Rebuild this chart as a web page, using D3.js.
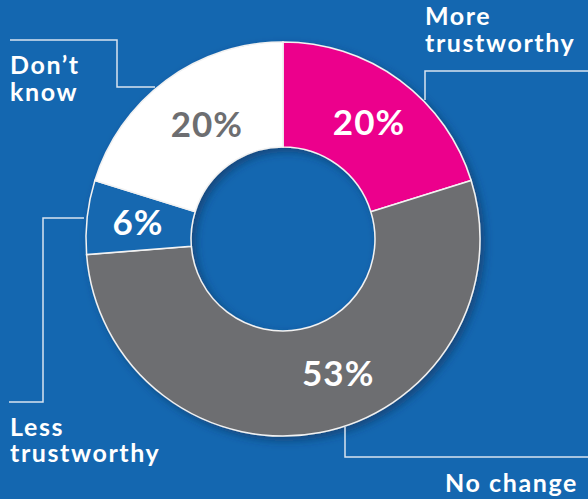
<html>
<head>
<title>Trust donut</title>
<script src="https://d3js.org/d3.v7.min.js"></script>
<style>
body { margin: 0; background: #1467b0; }
svg { display: block; }
.lbl { font-family: Lato, "Open Sans", sans-serif; font-weight: bold; fill: white; font-size: 25px; letter-spacing: 1.6px; }
.pct { font-family: Lato, "Open Sans", sans-serif; font-weight: bold; font-size: 35px; letter-spacing: 1px; text-anchor: middle; }
.lead { fill: none; stroke: #d8e3f0; stroke-width: 1.5; }
</style>
</head>
<body>
<svg width="588" height="499"></svg>
<script>
// answers, clockwise from 12 o'clock
var categories = ["More trustworthy", "No change", "Less trustworthy", "Don\u2019t know"];
var shares = [20, 53, 6, 20];
var pctLabels = ["20%", "53%", "6%", "20%"];
var fills = ["#ec008c", "#6d6e71", "#1467b0", "#ffffff"];
var textFills = ["#ffffff", "#ffffff", "#ffffff", "#6d6e71"];

var svg = d3.select("svg");
var cx = 283, cy = 239, R = 197, r = 92;

var defs = svg.append("defs");
var f = defs.append("filter").attr("id", "shadow")
  .attr("x", "-20%").attr("y", "-20%").attr("width", "140%").attr("height", "140%");
f.append("feDropShadow").attr("dx", 4).attr("dy", 4).attr("stdDeviation", 4)
  .attr("flood-color", "#08305a").attr("flood-opacity", 0.6);

var pie = d3.pie().sort(null).value(function(d) { return d; });
var arc = d3.arc().innerRadius(r).outerRadius(R);
var arcs = pie(shares);

var g = svg.append("g").attr("transform", "translate(" + cx + "," + cy + ")");

g.append("g").attr("filter", "url(#shadow)")
  .selectAll("path")
  .data(arcs)
  .enter()
  .append("path")
    .attr("d", arc)
    .attr("fill", function(d, i) { return fills[i]; })
    .attr("stroke", "#f2f2f2")
    .attr("stroke-width", 1.5);

// label placement: angle shift (radians) and radius, tuned by eye
var labelShift = [0, 0.2, 0, -0.05];
var labelRad = [145, 145, 146, 138];
g.selectAll("text.pct")
  .data(arcs)
  .enter()
  .append("text")
    .attr("class", "pct")
    .attr("fill", function(d, i) { return textFills[i]; })
    .attr("dy", "0.36em")
    .attr("transform", function(d, i) {
      var a = (d.startAngle + d.endAngle) / 2 - labelShift[i];
      var p = d3.arc().innerRadius(labelRad[i]).outerRadius(labelRad[i])
        .centroid({startAngle: a, endAngle: a});
      return "translate(" + p[0] + "," + p[1] + ")";
    })
    .text(function(d, i) { return pctLabels[i]; });

// leader lines
var leads = [
  [[588, 71], [425, 71], [425, 100]],
  [[588, 457], [345, 457], [345, 427]],
  [[9, 402], [43, 402], [43, 218], [84, 218]],
  [[10, 40], [117, 40], [117, 87], [155, 87]]
];
svg.selectAll("path.lead")
  .data(leads)
  .enter()
  .append("path")
    .attr("class", "lead")
    .attr("d", d3.line());

// category names
var names = [
  {x: 425, y: [25, 52], t: ["More", "trustworthy"]},
  {x: 445, y: [492], t: ["No change"]},
  {x: 10, y: [436, 462], t: ["Less", "trustworthy"]},
  {x: 10, y: [74, 101], t: ["Don\u2019t", "know"]}
];
names.forEach(function(n) {
  var t = svg.append("text").attr("class", "lbl");
  n.t.forEach(function(s, j) {
    t.append("tspan").attr("x", n.x).attr("y", n.y[j]).text(s);
  });
});
</script>
</body>
</html>
